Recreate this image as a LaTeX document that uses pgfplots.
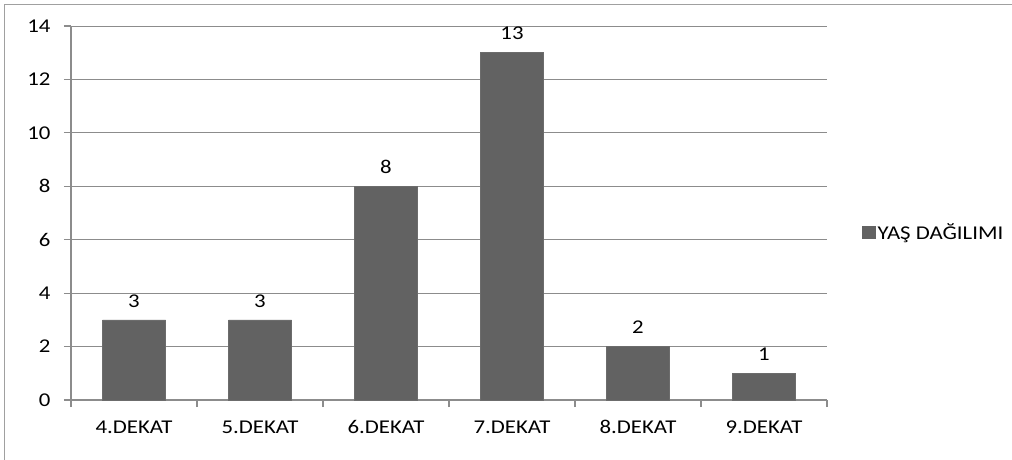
\documentclass[border=0pt]{standalone}
\usepackage{fontspec}
\setmainfont[FakeStretch=1.17]{Carlito}
\usepackage{pgfplots}
\pgfplotsset{compat=1.18}
\definecolor{barcol}{HTML}{626262}
\definecolor{gridcol}{HTML}{8C8C8C}
\definecolor{framecol}{HTML}{A0A0A0}
\newcommand{\ff}{\fontsize{19.5}{22}\selectfont}
\begin{document}
\begin{tikzpicture}[x=1pt,y=1pt]
\path[use as bounding box] (0,0) rectangle (1012,-460);
\draw[framecol,line width=1.3pt] (4.5,-460) -- (4.5,-4.5) -- (1012,-4.5);
\begin{axis}[
  at={(71pt,-400pt)}, anchor=south west,
  scale only axis, width=756pt, height=374pt,
  xmin=0.5, xmax=6.5, ymin=0, ymax=14,
  ytick={0,2,...,14},
  xtick={1,...,6},
  xticklabels={4.DEKAT,5.DEKAT,6.DEKAT,7.DEKAT,8.DEKAT,9.DEKAT},
  minor xtick={0.5,1.5,...,6.5},
  xtick style={draw=none},
  minor x tick style={draw=gridcol,line width=1.2pt},
  y tick style={draw=gridcol,line width=1.2pt},
  major tick length=7pt, minor tick length=7pt,
  tick align=outside,
  axis lines*=left,
  axis line style={draw=gridcol,line width=1.2pt},
  ymajorgrids, grid style={draw=gridcol,line width=1pt},
  /pgf/number format/assume math mode=true,
  ticklabel style={font=\ff, black},
  xticklabel style={yshift=-10pt},
  yticklabel style={xshift=-10pt},
  ybar, bar width=63pt,
  nodes near coords,
  nodes near coords style={font=\ff, black, yshift=9pt},
  legend style={at={(1.046,0.449)}, anchor=west, draw=none, fill=none,
    font=\ff, inner sep=0pt,
    legend cell align=left},
  legend image code/.code={\fill[barcol] (-2pt,-6pt) rectangle (11pt,6pt);},
]
\addplot[fill=barcol, draw=gray!85!black, line width=0.6pt] coordinates {(1,3) (2,3) (3,8) (4,13) (5,2) (6,1)};
\addlegendentry{YAŞ DAĞILIMI}
\end{axis}
\end{tikzpicture}
\end{document}
